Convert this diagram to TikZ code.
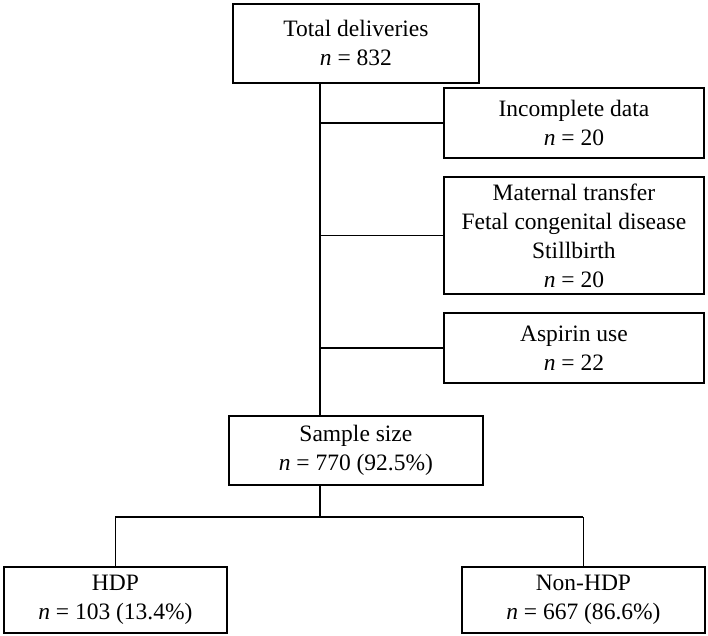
\documentclass[tikz,border=0pt]{standalone}
\usepackage{fontspec}
\setmainfont{Liberation Serif}
\begin{document}
\begin{tikzpicture}[x=1pt,y=-1pt,
  bx/.style={draw,line width=1.8pt,align=center,font=\fontsize{23.5}{29}\selectfont,anchor=north west,inner sep=0pt},
  ln/.style={line width=1.8pt}]
\useasboundingbox (0,0) rectangle (708,635);
\node[bx,minimum width=246pt,minimum height=79pt] (tot) at (232,3) {Total deliveries\\\textit{n} = 832};
\node[bx,minimum width=260pt,minimum height=70pt] (inc) at (443,87) {Incomplete data\\\textit{n} = 20};
\node[bx,minimum width=260pt,minimum height=117pt] (mat) at (443,176) {Maternal transfer\\Fetal congenital disease\\Stillbirth\\\textit{n} = 20};
\node[bx,minimum width=260pt,minimum height=70pt] (asp) at (443,312) {Aspirin use\\\textit{n} = 22};
\node[bx,minimum width=254pt,minimum height=69pt] (ss) at (228,415) {Sample size\\\textit{n} = 770 (92.5\%)};
\node[bx,minimum width=223pt,minimum height=66pt] (hdp) at (3,566) {HDP\\\textit{n} = 103 (13.4\%)};
\node[bx,minimum width=243pt,minimum height=66pt] (non) at (461,566) {Non-HDP\\\textit{n} = 667 (86.6\%)};
\coordinate (t) at (320,0);
\draw[ln] (tot.south -| t) -- (ss.north -| t);
\draw[ln] (inc.west -| t) -- (inc.west);
\draw[ln] (mat.west -| t) -- (mat.west);
\draw[ln] (asp.west -| t) -- (asp.west);
\coordinate (j) at (320,517);
\draw[ln] (ss.south -| t) -- (j);
\draw[ln] (hdp.north |- j) -- (non.north |- j);
\draw[ln] (hdp.north |- j) -- (hdp.north);
\draw[ln] (non.north |- j) -- (non.north);
\end{tikzpicture}
\end{document}
